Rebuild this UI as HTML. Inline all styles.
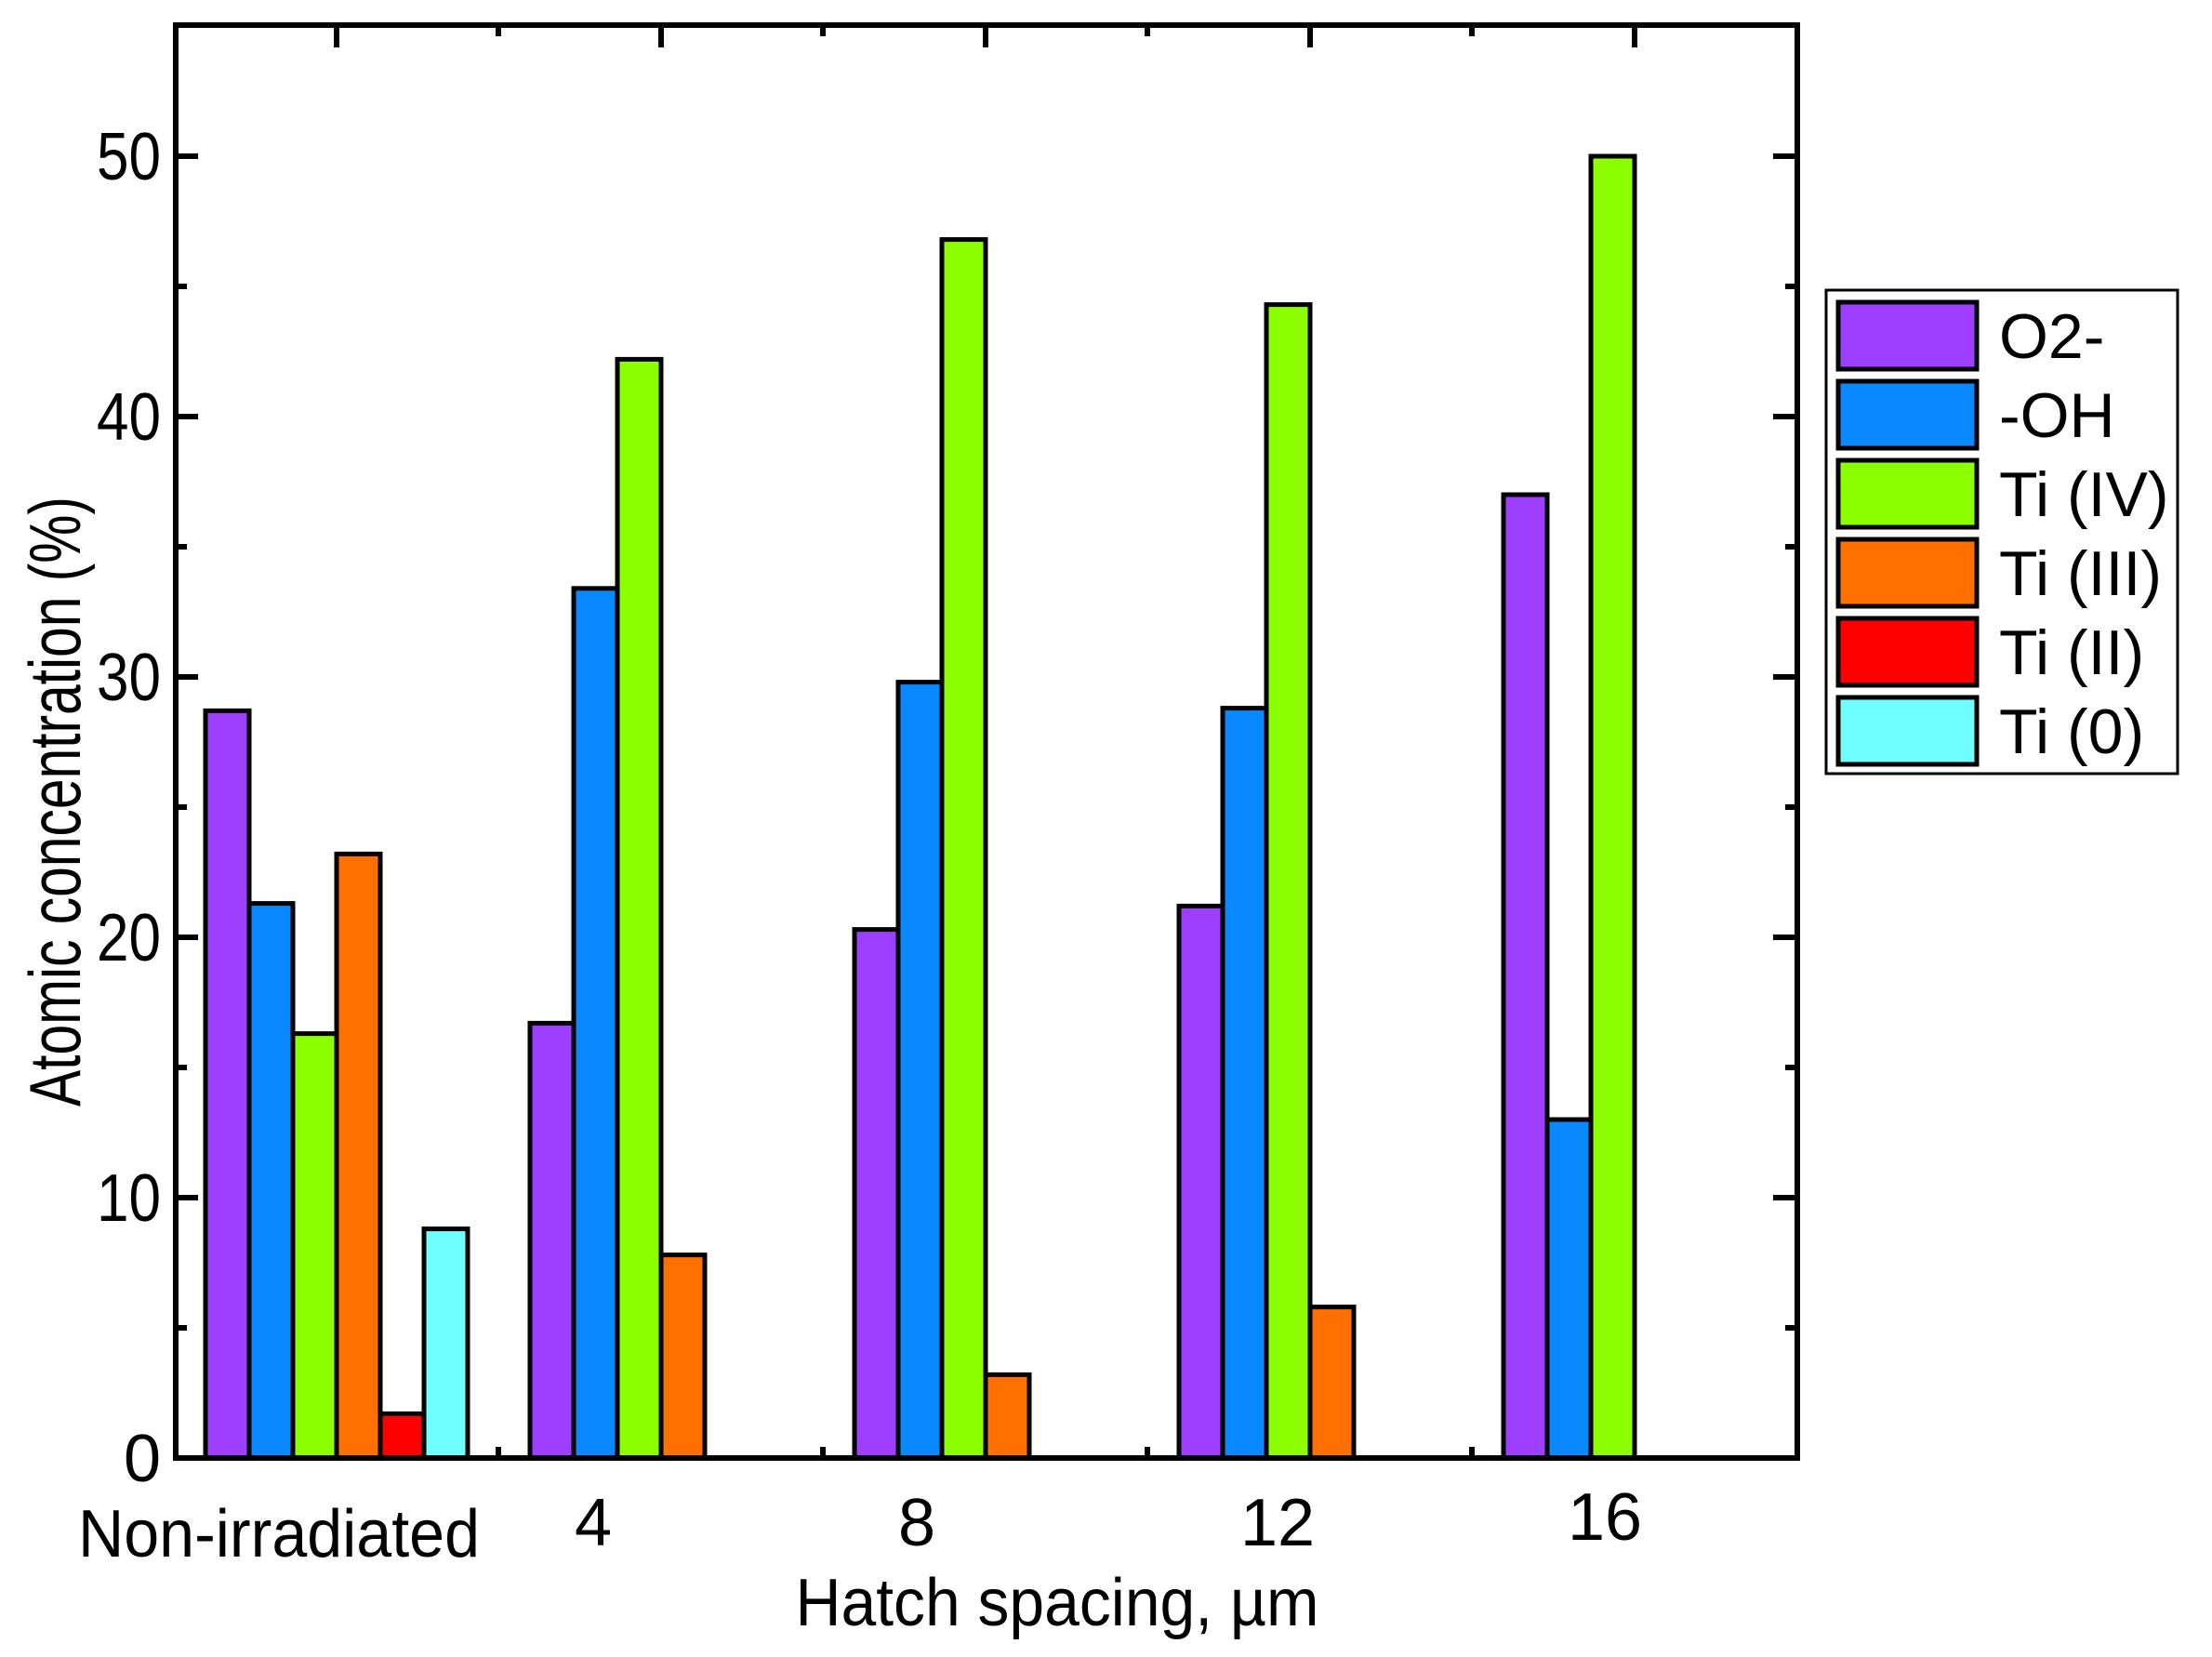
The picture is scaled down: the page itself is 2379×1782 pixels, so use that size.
<!DOCTYPE html>
<html><head><meta charset="utf-8"><style>html,body{margin:0;padding:0;background:#fff}svg{display:block}</style></head>
<body>
<svg width="2379" height="1782" viewBox="0 0 2379 1782" xmlns="http://www.w3.org/2000/svg" font-family="Liberation Sans, Arial, sans-serif">
<rect width="2379" height="1782" fill="#fff"/>
<g id="bars" stroke="#000" stroke-width="5">
</g>
<script>
(function(){
var cols=["#9E3FFF","#0A88FF","#8CFF00","#FF7000","#FF0000","#70FFFF"];
var data=[[28.7,21.3,16.3,23.2,1.7,8.8],[16.7,33.4,42.2,7.8],[20.3,29.8,46.8,3.2],[21.2,28.8,44.3,5.8],[37.0,13.0,50.0]];
var g=document.getElementById("bars"),ns="http://www.w3.org/2000/svg";
var y0=1568,k=28.0,w=47;
data.forEach(function(d,gi){var c=362+349*gi;var s=c-3*w;
d.forEach(function(v,i){var r=document.createElementNS(ns,"rect");var top=y0-v*k;
r.setAttribute("x",s+i*w);r.setAttribute("y",top);r.setAttribute("width",w);r.setAttribute("height",y0-top);r.setAttribute("fill",cols[i]);g.appendChild(r);});});
})();
</script>
<g stroke="#000" stroke-width="6" fill="none">
<rect x="189" y="27" width="1744" height="1541"/>
</g>
<g stroke="#000" stroke-width="6">
<line x1="189" y1="168" x2="213" y2="168"/><line x1="189" y1="448" x2="213" y2="448"/><line x1="189" y1="728" x2="213" y2="728"/><line x1="189" y1="1008" x2="213" y2="1008"/><line x1="189" y1="1288" x2="213" y2="1288"/>
<line x1="189" y1="308" x2="201" y2="308"/><line x1="189" y1="588" x2="201" y2="588"/><line x1="189" y1="868" x2="201" y2="868"/><line x1="189" y1="1148" x2="201" y2="1148"/><line x1="189" y1="1428" x2="201" y2="1428"/>
<line x1="1933" y1="168" x2="1907" y2="168"/><line x1="1933" y1="448" x2="1907" y2="448"/><line x1="1933" y1="728" x2="1907" y2="728"/><line x1="1933" y1="1008" x2="1907" y2="1008"/><line x1="1933" y1="1288" x2="1907" y2="1288"/>
<line x1="1933" y1="308" x2="1920" y2="308"/><line x1="1933" y1="588" x2="1920" y2="588"/><line x1="1933" y1="868" x2="1920" y2="868"/><line x1="1933" y1="1148" x2="1920" y2="1148"/><line x1="1933" y1="1428" x2="1920" y2="1428"/>
<line x1="362" y1="27" x2="362" y2="51"/><line x1="711" y1="27" x2="711" y2="51"/><line x1="1060" y1="27" x2="1060" y2="51"/><line x1="1409" y1="27" x2="1409" y2="51"/><line x1="1758" y1="27" x2="1758" y2="51"/>
<line x1="536" y1="27" x2="536" y2="39"/><line x1="885" y1="27" x2="885" y2="39"/><line x1="1234" y1="27" x2="1234" y2="39"/><line x1="1583" y1="27" x2="1583" y2="39"/>
<line x1="536" y1="1568" x2="536" y2="1556"/><line x1="885" y1="1568" x2="885" y2="1556"/><line x1="1234" y1="1568" x2="1234" y2="1556"/><line x1="1583" y1="1568" x2="1583" y2="1556"/>
</g>
<g font-size="72" fill="#000" text-anchor="end">
<text x="173" y="193" textLength="69" lengthAdjust="spacingAndGlyphs">50</text><text x="173" y="473" textLength="69" lengthAdjust="spacingAndGlyphs">40</text><text x="173" y="753" textLength="69" lengthAdjust="spacingAndGlyphs">30</text><text x="173" y="1033" textLength="69" lengthAdjust="spacingAndGlyphs">20</text><text x="173" y="1313" textLength="69" lengthAdjust="spacingAndGlyphs">10</text><text x="173" y="1593">0</text>
</g>
<g font-size="72" fill="#000" text-anchor="middle">
<text x="300" y="1674" textLength="432" lengthAdjust="spacingAndGlyphs">Non-irradiated</text>
<text x="638" y="1662">4</text><text x="986" y="1662">8</text><text x="1374" y="1662">12</text><text x="1726" y="1656">16</text>
<text x="1137" y="1748" textLength="563" lengthAdjust="spacingAndGlyphs">Hatch spacing, µm</text>
</g>
<text transform="translate(86,862) rotate(-90)" font-size="78" text-anchor="middle" textLength="656" lengthAdjust="spacingAndGlyphs">Atomic concentration (%)</text>
<rect x="1964" y="312" width="378" height="520" fill="#fff" stroke="#000" stroke-width="3"/>
<g stroke="#000" stroke-width="5">
<rect x="1977" y="325" width="149" height="72" fill="#9E3FFF"/>
<rect x="1977" y="410" width="149" height="72" fill="#0A88FF"/>
<rect x="1977" y="495" width="149" height="72" fill="#8CFF00"/>
<rect x="1977" y="580" width="149" height="72" fill="#FF7000"/>
<rect x="1977" y="665" width="149" height="72" fill="#FF0000"/>
<rect x="1977" y="750" width="149" height="72" fill="#70FFFF"/>
</g>
<g font-size="68" fill="#000">
<text x="2150" y="385">O2-</text><text x="2150" y="470">-OH</text><text x="2150" y="555">Ti (IV)</text><text x="2150" y="640">Ti (III)</text><text x="2150" y="725">Ti (II)</text><text x="2150" y="810">Ti (0)</text>
</g>
</svg>
</body></html>
